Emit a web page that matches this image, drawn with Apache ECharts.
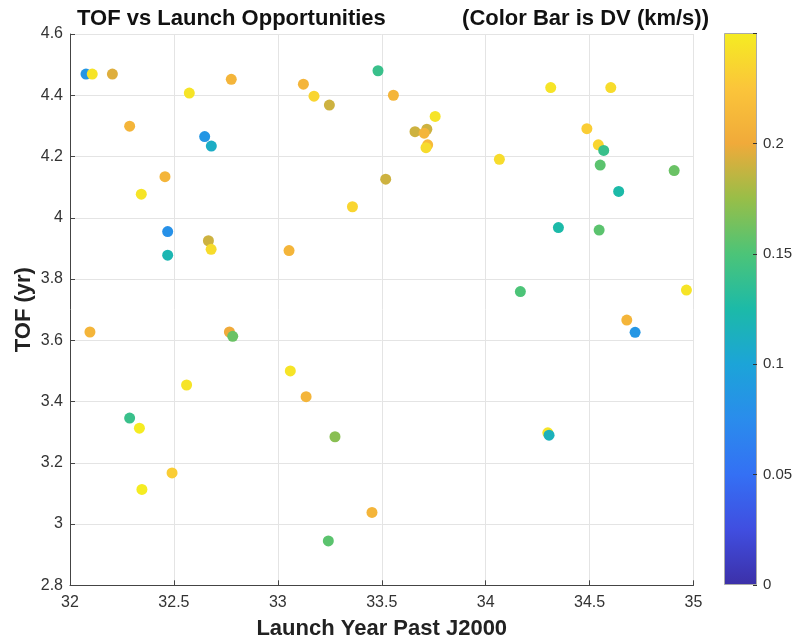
<!DOCTYPE html>
<html><head><meta charset="utf-8">
<script src="https://cdn.jsdelivr.net/npm/echarts@6/dist/echarts.min.js"></script>
<style>html,body{margin:0;padding:0;background:#fff}#c{width:794px;height:641px}</style>
</head><body><div id="c"></div>
<script>
const launchYear = [32.077,32.107,32.204,32.776,32.574,33.123,33.174,33.248,33.482,32.287,
  32.648,32.680,32.457,32.343,33.359,32.470,32.470,32.666,32.679,33.054,
  33.556,33.757,33.660,33.717,33.704,33.721,33.713,33.519,34.313,34.602,
  34.066,34.487,34.542,34.568,34.551,34.907,34.640,34.350,34.546,34.167,
  34.966,32.096,32.767,32.783,32.561,33.060,33.136,32.287,32.334,33.275,
  32.491,32.346,33.453,33.243,34.679,34.719,34.299,34.305];
const tof = [4.469,4.469,4.469,4.452,4.407,4.436,4.397,4.368,4.480,4.299,
  4.265,4.234,4.134,4.077,4.036,3.955,3.878,3.925,3.897,3.893,
  4.400,4.331,4.281,4.289,4.276,4.238,4.229,4.126,4.425,4.425,
  4.191,4.291,4.238,4.220,4.172,4.154,4.086,3.968,3.960,3.759,
  3.764,3.627,3.627,3.613,3.454,3.500,3.416,3.346,3.313,3.285,
  3.167,3.113,3.038,2.945,3.666,3.626,3.298,3.290];
const dv = [0.085,0.245,0.195,0.21,0.245,0.21,0.235,0.19,0.14,0.21,
  0.085,0.11,0.21,0.245,0.235,0.08,0.12,0.19,0.24,0.21,
  0.21,0.245,0.19,0.19,0.21,0.215,0.24,0.19,0.245,0.24,
  0.24,0.23,0.235,0.14,0.155,0.16,0.125,0.125,0.155,0.15,
  0.245,0.21,0.2,0.16,0.245,0.245,0.21,0.14,0.25,0.17,
  0.23,0.25,0.21,0.155,0.21,0.085,0.245,0.115];
const xTicks = [32,32.5,33,33.5,34,34.5,35];
const yTicks = [2.8,3,3.2,3.4,3.6,3.8,4,4.2,4.4,4.6];
const cbTicks = [0,0.05,0.1,0.15,0.2];
const cbMax = 0.25;
const parula = ['#3c30a8','#404ee0','#3470f4','#2a8cec','#1ca4d8','#1cbaa8','#4cc478','#98be48','#f0aa3a','#fbc53a','#f5ec22'];

const chart = echarts.init(document.getElementById('c'), null, {renderer:'canvas'});
const FONT = '"Liberation Sans", Arial, sans-serif';
const stops = parula.map((c,i)=>({offset:i/(parula.length-1), color:c}));
const fmt = v => String(Math.round(v*100)/100);
chart.setOption({
  animation:false,
  textStyle:{fontFamily:FONT},
  title:[
    {text:'TOF vs Launch Opportunities', left:72, top:3, textStyle:{fontFamily:FONT,fontSize:22,fontWeight:'bold',color:'#111'}},
    {text:'(Color Bar is DV (km/s))', right:80, top:3, textStyle:{fontFamily:FONT,fontSize:22,fontWeight:'bold',color:'#111'}}
  ],
  grid:[
    {left:70, top:34, width:623.5, height:551.3, containLabel:false, outerBoundsMode:'none'},
    {left:724, top:33, width:33, height:552, outerBoundsMode:'none'}
  ],
  xAxis:[
    {type:'value', gridIndex:0, min:xTicks[0], max:xTicks[xTicks.length-1], interval:0.5,
     name:'Launch Year Past J2000', nameLocation:'middle', nameGap:33, nameMoveOverlap:false,
     nameTextStyle:{fontFamily:FONT,fontSize:22,fontWeight:'bold',color:'#222'},
     axisLine:{lineStyle:{color:'#444',width:1}},
     axisTick:{inside:true,length:5,lineStyle:{color:'#444'}},
     axisLabel:{fontFamily:FONT,fontSize:16,color:'#333',margin:9,formatter:v=>xTicks.includes(Math.round(v*10)/10)?fmt(v):''},
     splitLine:{show:true,lineStyle:{color:'#e4e4e4'}}},
    {type:'category', gridIndex:1, data:[''], show:false}
  ],
  yAxis:[
    {type:'value', gridIndex:0, min:yTicks[0], max:yTicks[yTicks.length-1], interval:0.2,
     name:'TOF (yr)', nameLocation:'middle', nameGap:35, nameRotate:90, nameMoveOverlap:false,
     nameTextStyle:{fontFamily:FONT,fontSize:22,fontWeight:'bold',color:'#222'},
     axisLine:{show:true,lineStyle:{color:'#444',width:1}},
     axisTick:{show:true,inside:true,length:5,lineStyle:{color:'#444'}},
     axisLabel:{fontFamily:FONT,fontSize:16,color:'#333',margin:7,formatter:v=>fmt(v)},
     splitLine:{show:true,lineStyle:{color:'#e4e4e4'}}},
    {type:'value', gridIndex:1, min:0, max:cbMax, interval:0.05, position:'right', z:10,
     axisLine:{show:false},
     axisTick:{show:true,inside:true,length:4,lineStyle:{color:'#333'}},
     axisLabel:{fontFamily:FONT,fontSize:15,color:'#333',margin:6,
       formatter:v=>cbTicks.some(t=>Math.abs(t-v)<1e-9)?fmt(v):''},
     splitLine:{show:false}}
  ],
  visualMap:{show:false, type:'continuous', min:0, max:cbMax, dimension:2, seriesIndex:0, inRange:{color:parula}},
  series:[
    {type:'scatter', xAxisIndex:0, yAxisIndex:0, symbolSize:11, itemStyle:{opacity:1},
     data:launchYear.map((x,i)=>[x,tof[i],dv[i]])},
    {type:'bar', xAxisIndex:1, yAxisIndex:1, barWidth:'100%', silent:true, z:1,
     data:[cbMax],
     itemStyle:{color:new echarts.graphic.LinearGradient(0,1,0,0,stops), borderColor:'#aaa', borderWidth:1}}
  ]
});
</script></body></html>
